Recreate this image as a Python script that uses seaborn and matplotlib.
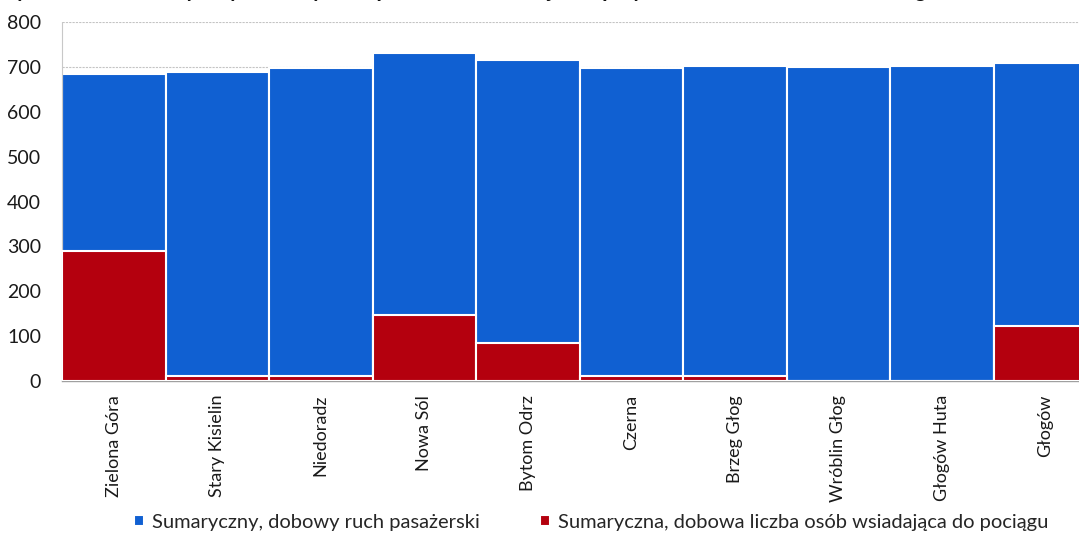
import matplotlib
matplotlib.use("Agg")
import matplotlib.pyplot as plt
import pandas as pd
import seaborn as sns

stations = ['Zielona Góra', 'Stary Kisielin', 'Niedoradz', 'Nowa Sól', 'Bytom Odrz',
            'Czerna', 'Brzeg Głog', 'Wróblin Głog', 'Głogów Huta', 'Głogów']
ruch = [684, 689, 698, 731, 716, 698, 702, 700, 702, 709]
wsiadajacy = [289, 11, 11, 147, 85, 11, 11, 0, 0, 122]

label_ruch = 'Sumaryczny, dobowy ruch pasażerski'
label_wsiad = 'Sumaryczna, dobowa liczba osób wsiadająca do pociągu'

df = pd.DataFrame({'stacja': stations, 'ruch': ruch, 'wsiadajacy': wsiadajacy})

sns.set_style("white")
plt.rcParams['font.family'] = ['Lato', 'DejaVu Sans']

blue = '#1060d2'
red = '#b4000e'

fig = plt.figure(figsize=(10.79, 5.40), dpi=100)
ax = fig.add_axes([0.0575, 0.2944, 0.9592, 0.6648])

sns.barplot(df, x='stacja', y='ruch', color=blue, width=1, saturation=1,
            edgecolor='white', linewidth=1.5, label=label_ruch, ax=ax, zorder=2)
sns.barplot(df, x='stacja', y='wsiadajacy', color=red, width=1, saturation=1,
            edgecolor='white', linewidth=1.5, label=label_wsiad, ax=ax, zorder=3)

ax.set_xlim(-0.5, 9.5)
ax.set_ylim(0, 800)
ax.set_yticks(range(0, 801, 100))
ax.set_xlabel('')
ax.set_ylabel('')
ax.yaxis.grid(True, color='#c4c4c4', linewidth=0.8, linestyle=(0, (2, 1)), zorder=0)
ax.set_axisbelow(True)

for s in ['top', 'right']:
    ax.spines[s].set_visible(False)
ax.spines['left'].set_color('#c8c8c8')
ax.spines['left'].set_linestyle((0, (1, 1)))
ax.spines['left'].set_linewidth(0.8)
ax.spines['bottom'].set_color('#a0a0a0')
ax.spines['bottom'].set_linewidth(1.0)

ax.tick_params(axis='y', length=0, pad=15, labelsize=14, labelcolor='#1a1a1a')
ax.tick_params(axis='x', length=0, pad=10, labelsize=13, labelcolor='#1a1a1a')
plt.setp(ax.get_xticklabels(), rotation=90)

handles, labels = ax.get_legend_handles_labels()
fig.legend(handles, labels, loc='center', bbox_to_anchor=(0.548, 0.033), ncol=2,
           frameon=False, fontsize=14.5, handlelength=0.5, handleheight=0.5,
           handletextpad=0.4, columnspacing=3.0)
if ax.get_legend() is not None:
    ax.get_legend().remove()

# tytuł ucięty przy skanowaniu - widać tylko dolną część liter
fig.text(0.002, 1.0 + 3 / 540,
         'Rysunek 14. Sumaryczny dobowy ruch pasażerski na stacjach i przystankach Zielona Góra – Głogów w dni robocze',
         fontsize=15.5, fontweight='bold', va='baseline', ha='left', color='#111111')

fig.savefig('out.png', dpi=100)
